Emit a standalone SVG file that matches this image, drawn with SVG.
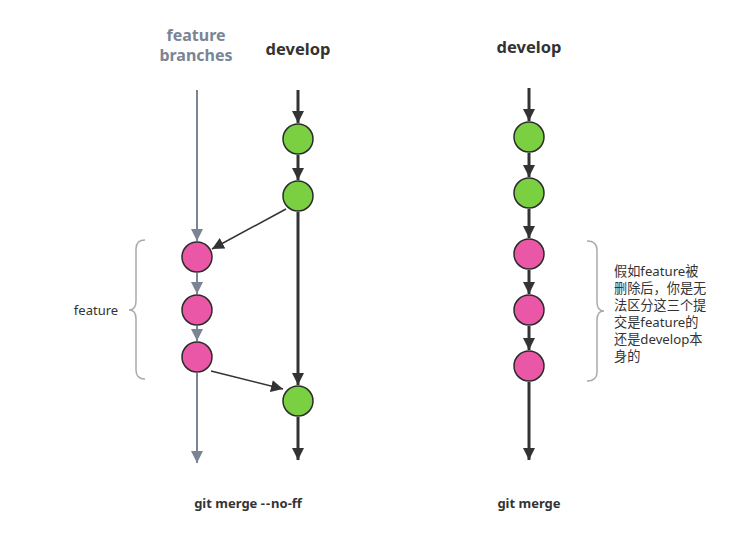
<svg xmlns="http://www.w3.org/2000/svg" width="732" height="547" viewBox="0 0 732 547">
<style>
.t{font-family:"Noto Sans","Noto Sans CJK SC",sans-serif}
.b{font-weight:bold;fill:#333}
.g{fill:#7bd042;stroke:#2b2b2b;stroke-width:1.5}
.p{fill:#e957a6;stroke:#2b2b2b;stroke-width:1.5}
.dk{stroke:#333;stroke-width:3;fill:none}
.th{stroke:#333;stroke-width:1.5;fill:none}
.gr{stroke:#7a8594;stroke-width:2;fill:none}
.br{stroke:#aaa;stroke-width:1.5;fill:none}
</style>
<defs>
<marker id="ad" viewBox="0 0 10 10" refX="10" refY="5" markerWidth="4" markerHeight="4" orient="auto" markerUnits="strokeWidth"><path d="M0,0L10,5L0,10z" fill="#333"/></marker>
<marker id="at" viewBox="0 0 10 10" refX="10" refY="5" markerWidth="8" markerHeight="8" orient="auto" markerUnits="strokeWidth"><path d="M0,0L10,5L0,10z" fill="#333"/></marker>
<marker id="ag" viewBox="0 0 10 10" refX="10" refY="5" markerWidth="6" markerHeight="6" orient="auto" markerUnits="strokeWidth"><path d="M0,0L10,5L0,10z" fill="#7a8594"/></marker>
</defs>
<g id="labels" class="t">
<text x="196" y="41" text-anchor="middle" font-size="16" font-weight="bold" fill="#7a8594">feature</text>
<text x="196" y="61" text-anchor="middle" font-size="16" font-weight="bold" fill="#7a8594">branches</text>
<text x="298" y="55" text-anchor="middle" font-size="16.5" class="b">develop</text>
<text x="529" y="53" text-anchor="middle" font-size="16.5" class="b">develop</text>
<text x="248" y="508" text-anchor="middle" font-size="13" class="b">git merge <tspan letter-spacing="1">--</tspan>no-ff</text>
<text x="529" y="508" text-anchor="middle" font-size="13" class="b">git merge</text>
<text x="96" y="315" text-anchor="middle" font-size="13" fill="#333">feature</text>
<g font-size="13.2" fill="#333">
<text x="614" y="276">假如feature被</text>
<text x="614" y="293">删除后，你是无</text>
<text x="614" y="310">法区分这三个提</text>
<text x="614" y="327">交是feature的</text>
<text x="614" y="344">还是develop本</text>
<text x="614" y="361">身的</text>
</g>
</g>
<g id="connectors">
<line x1="298" y1="90" x2="298" y2="123" class="dk" marker-end="url(#ad)"/>
<line x1="298" y1="155" x2="298" y2="180" class="dk" marker-end="url(#ad)"/>
<line x1="298" y1="212" x2="298" y2="385" class="dk" marker-end="url(#ad)"/>
<line x1="298" y1="417" x2="298" y2="460" class="dk" marker-end="url(#ad)"/>
<line x1="286" y1="209" x2="212" y2="249" class="th" marker-end="url(#at)"/>
<line x1="211" y1="371" x2="283" y2="389" class="th" marker-end="url(#at)"/>
<line x1="197" y1="90" x2="197" y2="241" class="gr" marker-end="url(#ag)"/>
<line x1="197" y1="273" x2="197" y2="294" class="gr" marker-end="url(#ag)"/>
<line x1="197" y1="326" x2="197" y2="341" class="gr" marker-end="url(#ag)"/>
<line x1="197" y1="373" x2="197" y2="463" class="gr" marker-end="url(#ag)"/>
<line x1="529" y1="88" x2="529" y2="121" class="dk" marker-end="url(#ad)"/>
<line x1="529" y1="153" x2="529" y2="177" class="dk" marker-end="url(#ad)"/>
<line x1="529" y1="209" x2="529" y2="238" class="dk" marker-end="url(#ad)"/>
<line x1="529" y1="270" x2="529" y2="294" class="dk" marker-end="url(#ad)"/>
<line x1="529" y1="326" x2="529" y2="350" class="dk" marker-end="url(#ad)"/>
<line x1="529" y1="382" x2="529" y2="460" class="dk" marker-end="url(#ad)"/>
<path d="M145,240 Q136,240 136,249 L136,301 Q136,310 129,310 Q136,310 136,319 L136,370 Q136,379 145,379" class="br"/>
<path d="M587,241 Q597,241 597,250 L597,302 Q597,311 604,311 Q597,311 597,320 L597,372 Q597,381 587,381" class="br"/>
</g>
<g id="d1"><circle cx="298" cy="139" r="15" class="g"/></g>
<g id="d2"><circle cx="298" cy="196" r="15" class="g"/></g>
<g id="d3"><circle cx="298" cy="401" r="15" class="g"/></g>
<g id="f1"><circle cx="197" cy="257" r="15" class="p"/></g>
<g id="f2"><circle cx="197" cy="310" r="15" class="p"/></g>
<g id="f3"><circle cx="197" cy="357" r="15" class="p"/></g>
<g id="r1"><circle cx="529" cy="137" r="15" class="g"/></g>
<g id="r2"><circle cx="529" cy="193" r="15" class="g"/></g>
<g id="r3"><circle cx="529" cy="254" r="15" class="p"/></g>
<g id="r4"><circle cx="529" cy="310" r="15" class="p"/></g>
<g id="r5"><circle cx="529" cy="366" r="15" class="p"/></g>
</svg>
